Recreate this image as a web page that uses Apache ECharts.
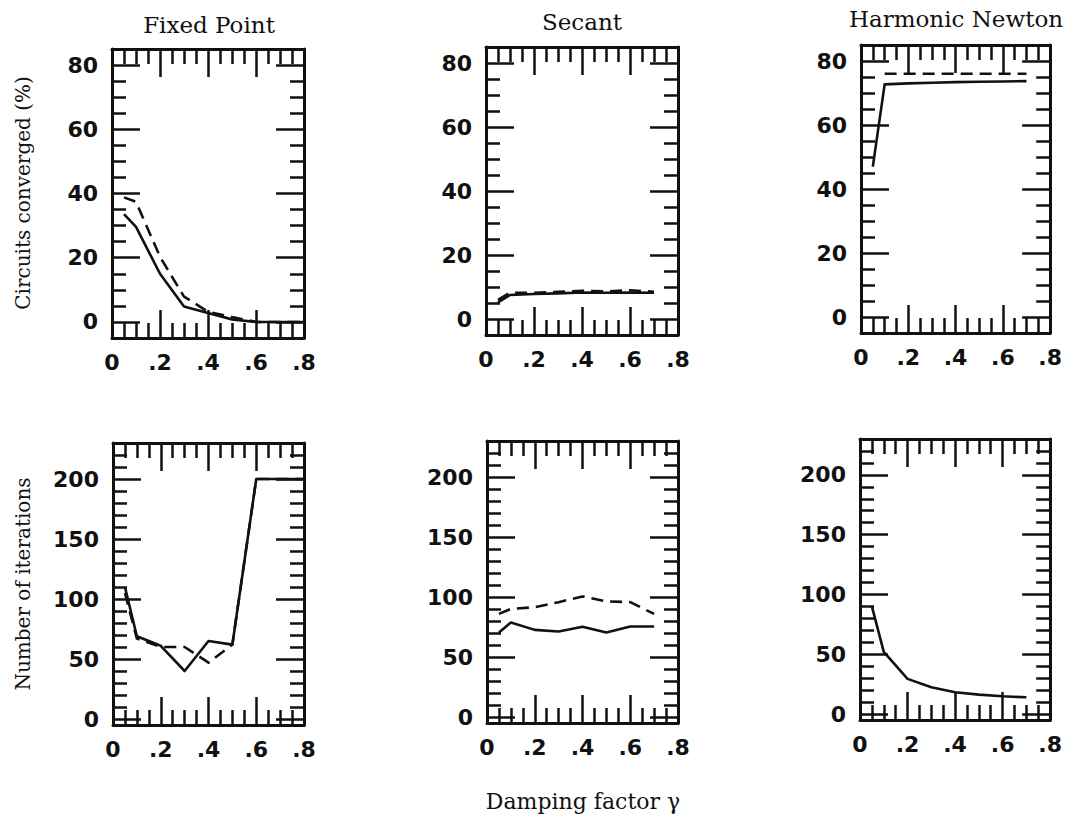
<!DOCTYPE html>
<html>
<head>
<meta charset="utf-8">
<script src="https://cdn.jsdelivr.net/npm/echarts@6/dist/echarts.min.js"></script>
<style>
html,body{margin:0;padding:0;background:#fff;}
#chart{width:1065px;height:820px;}
</style>
</head>
<body>
<div id="chart"></div>
<script>
// ---------- data ----------
const panelTitles = ['Fixed Point', 'Secant', 'Harmonic Newton'];
const convName = 'Circuits converged (%)';
const iterName = 'Number of iterations';
const xName = 'Damping factor \u03b3';

const xMajorTicks = [0, 0.2, 0.4, 0.6, 0.8];
const xMinorTicks = [0.05, 0.1, 0.15, 0.25, 0.3, 0.35, 0.45, 0.5, 0.55, 0.65, 0.7, 0.75];
const convMajorTicks = [0, 20, 40, 60, 80];
const convMinorTicks = [5, 10, 15, 25, 30, 35, 45, 50, 55, 65, 70, 75];
const iterMajorTicks = [0, 50, 100, 150, 200];
const iterMinorTicks = [10, 20, 30, 40, 60, 70, 80, 90, 110, 120, 130, 140, 160, 170, 180, 190, 210, 220];

// Fixed Point
const fpGamma = [0.05, 0.1, 0.2, 0.3, 0.4, 0.5, 0.6, 0.7, 0.8];
const fpConvSolid = [33.6, 29.6, 15.0, 4.8, 2.8, 0.8, 0, 0, 0];
const fpConvDashed = [38.8, 37.4, 20.3, 7.9, 3.2, 1.5, 0, 0, 0];
const fpIterSolid = [110, 69, 61, 40, 65, 62, 200, 200, 200];
const fpIterDashed = [105, 67, 60, 60, 47, 62, 200, 200, 200];

// Secant
const secGamma = [0.05, 0.1, 0.2, 0.3, 0.4, 0.5, 0.6, 0.7];
const secConvSolid = [5.2, 7.5, 7.8, 8.0, 8.3, 8.2, 8.3, 8.2];
const secConvDashed = [6.0, 8.2, 8.2, 8.5, 8.8, 8.6, 9.0, 8.5];
const secIterSolid = [70.4, 78.8, 72.6, 71.2, 75.2, 70.4, 75.4, 75.4];
const secIterDashed = [85.9, 90.1, 91.5, 95.7, 100.5, 96.3, 95.7, 85.9];

// Harmonic Newton
const hnGamma = [0.05, 0.1, 0.2, 0.3, 0.4, 0.5, 0.6, 0.7];
const hnConvSolid = [47, 72.7, 73.0, 73.2, 73.4, 73.5, 73.6, 73.7];
const hnGammaDashed = [0.1, 0.2, 0.3, 0.4, 0.5, 0.6, 0.7];
const hnConvDashed = [76, 76, 76, 76, 76, 76, 76];
const hnIterSolid = [90, 52, 29.4, 22.4, 18.2, 16.2, 14.8, 14.0];

// ---------- layout / style ----------
const INK = '#111';
const SERIF = '"DejaVu Serif", "Liberation Serif", serif';
const SANS = '"DejaVu Sans", "Liberation Sans", sans-serif';
const grids = [
  {left: 112, top: 49, width: 192, height: 289},
  {left: 486, top: 47, width: 192, height: 288},
  {left: 861, top: 45, width: 191, height: 288},
  {left: 113, top: 443, width: 191, height: 282},
  {left: 487, top: 441, width: 191, height: 282},
  {left: 860, top: 439, width: 192, height: 281}
];
const convRange = [-5, 85];
const iterRange = [-5, 230];

function zip(xs, ys) { return xs.map((x, i) => [x, ys[i]]); }
function fmtX(v) { return v === 0 ? '0' : String(v).replace(/^0/, ''); }

const xAxes = [], yAxes = [], series = [];

function addAxes(gi, kind) {
  const yMaj = kind === 'conv' ? convMajorTicks : iterMajorTicks;
  const yMin = kind === 'conv' ? convMinorTicks : iterMinorTicks;
  const yR = kind === 'conv' ? convRange : iterRange;
  const xStart = xAxes.length, yStart = yAxes.length;
  const defs = [
    ['bottom', xMajorTicks, 28, true, true],
    ['bottom', xMinorTicks, 15, false, false],
    ['top', xMajorTicks, 28, true, false],
    ['top', xMinorTicks, 15, false, false]
  ];
  defs.forEach(([pos, ticks, len, line, label]) => {
    xAxes.push({
      gridIndex: gi, type: 'value', min: 0, max: 0.8, position: pos,
      splitLine: {show: false},
      axisLine: {show: line, onZero: false, lineStyle: {color: INK, width: 3}},
      axisTick: {show: true, inside: true, length: len, customValues: ticks, lineStyle: {color: INK, width: 2.5}},
      axisLabel: label ? {show: true, customValues: ticks, formatter: fmtX, margin: 13,
        color: INK, fontFamily: SANS, fontWeight: 'bold', fontSize: 22} : {show: false}
    });
  });
  const ydefs = [
    ['left', yMaj, 28, true, true],
    ['left', yMin, 14, false, false],
    ['right', yMaj, 28, true, false],
    ['right', yMin, 14, false, false]
  ];
  ydefs.forEach(([pos, ticks, len, line, label]) => {
    yAxes.push({
      gridIndex: gi, type: 'value', min: yR[0], max: yR[1], position: pos,
      splitLine: {show: false},
      axisLine: {show: line, onZero: false, lineStyle: {color: INK, width: 3}},
      axisTick: {show: true, inside: true, length: len, customValues: ticks, lineStyle: {color: INK, width: 2.5}},
      axisLabel: label ? {show: true, customValues: ticks, margin: 14,
        color: INK, fontFamily: SANS, fontWeight: 'bold', fontSize: 22} : {show: false}
    });
  });
  return [xStart, yStart];
}

function addLine(axes, data, dashed) {
  series.push({
    type: 'line', xAxisIndex: axes[0], yAxisIndex: axes[1], data: data,
    showSymbol: false, symbol: 'none', animation: false, z: 5,
    lineStyle: {color: INK, width: 2.6, type: dashed ? [12, 7] : 'solid', cap: 'butt', join: 'round'}
  });
}

let a;
a = addAxes(0, 'conv');
addLine(a, zip(fpGamma, fpConvSolid), false);
addLine(a, zip(fpGamma, fpConvDashed), true);
a = addAxes(1, 'conv');
addLine(a, zip(secGamma, secConvSolid), false);
addLine(a, zip(secGamma, secConvDashed), true);
a = addAxes(2, 'conv');
addLine(a, zip(hnGamma, hnConvSolid), false);
addLine(a, zip(hnGammaDashed, hnConvDashed), true);
a = addAxes(3, 'iter');
addLine(a, zip(fpGamma, fpIterSolid), false);
addLine(a, zip(fpGamma, fpIterDashed), true);
a = addAxes(4, 'iter');
addLine(a, zip(secGamma, secIterSolid), false);
addLine(a, zip(secGamma, secIterDashed), true);
a = addAxes(5, 'iter');
addLine(a, zip(hnGamma, hnIterSolid), false);

function txt(s, x, y, size, rot) {
  return {type: 'text', x: x, y: y, rotation: rot || 0, silent: true,
    style: {text: s, fill: INK, fontFamily: SERIF, fontSize: size,
      align: 'center', verticalAlign: 'middle', textAlign: 'center', textVerticalAlign: 'middle'}};
}

const chart = echarts.init(document.getElementById('chart'), null, {renderer: 'svg'});
chart.setOption({
  backgroundColor: '#fff',
  animation: false,
  grid: grids.map(g => Object.assign({containLabel: false}, g)),
  xAxis: xAxes,
  yAxis: yAxes,
  series: series,
  graphic: [
    txt(panelTitles[0], 209, 25, 23),
    txt(panelTitles[1], 582, 22, 23),
    txt(panelTitles[2], 956, 19, 23),
    txt(convName, 23, 193, 20, Math.PI / 2),
    txt(iterName, 23, 584, 20, Math.PI / 2),
    txt(xName, 583, 801, 22)
  ]
});
</script>
</body>
</html>
